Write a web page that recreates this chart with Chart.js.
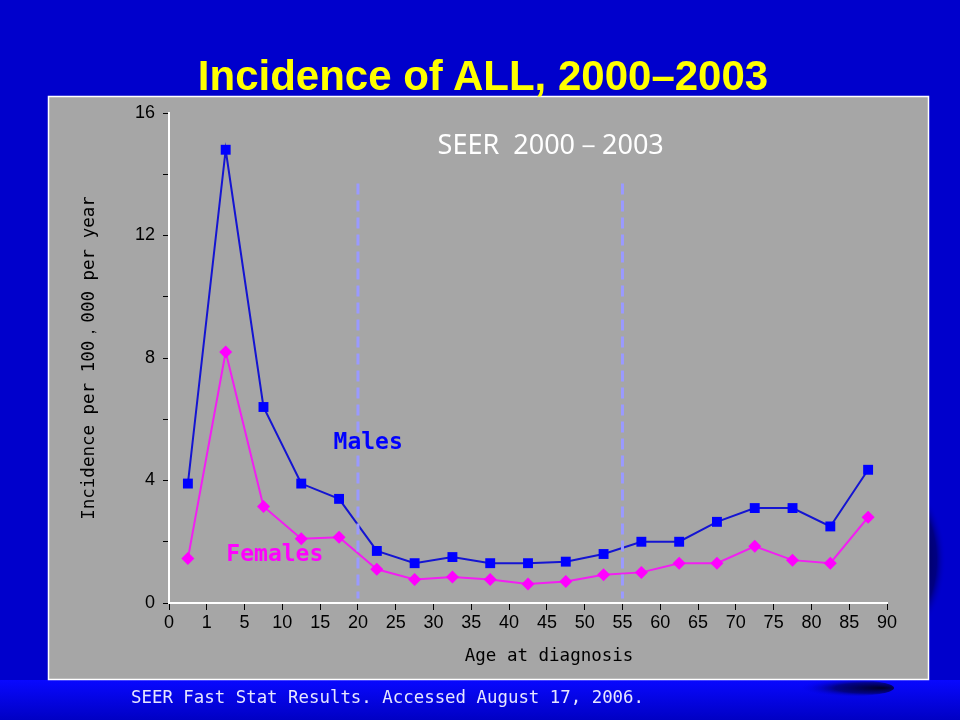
<!DOCTYPE html>
<html>
<head>
<meta charset="utf-8">
<script src="https://cdn.jsdelivr.net/npm/chart.js@4.4.1/dist/chart.umd.min.js"></script>
<style>
body { margin: 0; background: #0000cc; }
#wrap { position: relative; width: 960px; height: 720px; overflow: hidden; }
#title { position: absolute; left: 3px; top: 52px; width: 960px; line-height: 46px; text-align: center;
  font: bold 42px "Liberation Sans", Arial, sans-serif; color: #ffff00; }
#note { position: absolute; left: 131px; top: 687px; line-height: 20px; white-space: pre;
  font: 17.4px "DejaVu Sans Mono", monospace; color: #e6e6ff; }
</style>
</head>
<body>
<div id="wrap">
  <canvas id="chart" width="960" height="720"></canvas>
  <div id="title">Incidence of ALL, 2000–2003</div>
  <div id="note">SEER Fast Stat Results. Accessed August 17, 2006.</div>
</div>
<script>
// tick labels along the age axis (group boundaries)
const ageTicks = ['0', '1', '5', '10', '15', '20', '25', '30', '35', '40', '45',
  '50', '55', '60', '65', '70', '75', '80', '85', '90'];
// age groups, one point per group, drawn between its boundaries
const ageGroups = ['<1', '1-4', '5-9', '10-14', '15-19', '20-24', '25-29', '30-34', '35-39',
  '40-44', '45-49', '50-54', '55-59', '60-64', '65-69', '70-74', '75-79', '80-84', '85+'];
const males = [3.9, 14.8, 6.4, 3.9, 3.4, 1.7, 1.3, 1.5, 1.3, 1.3, 1.35, 1.6, 2.0, 2.0, 2.65, 3.1, 3.1, 2.5, 4.35];
const females = [1.45, 8.2, 3.15, 2.1, 2.15, 1.1, 0.77, 0.85, 0.77, 0.62, 0.7, 0.92, 1.0, 1.3, 1.3, 1.85, 1.4, 1.3, 2.8];
// dashed dividers at ages 20 and 55 (tick index)
const dividers = [5, 12];

const toPoints = vals => vals.map((v, i) => ({ x: i + 0.5, y: v }));

// slide background + grey panel
const slide = {
  id: 'slide',
  beforeDraw(chart) {
    const ctx = chart.ctx;
    ctx.save();
    ctx.fillStyle = '#0000cc';
    ctx.fillRect(0, 0, 960, 720);

    let g = ctx.createLinearGradient(0, 680, 0, 720);
    g.addColorStop(0, '#0808ff');
    g.addColorStop(1, '#0000c4');
    ctx.fillStyle = g;
    ctx.fillRect(0, 680, 960, 40);

    // dark shadow behind panel on the right
    ctx.save();
    ctx.translate(888, 560);
    ctx.scale(1, 1.5);
    g = ctx.createRadialGradient(0, 0, 20, 0, 0, 58);
    g.addColorStop(0, 'rgba(0,0,30,0.95)');
    g.addColorStop(0.75, 'rgba(0,0,70,0.55)');
    g.addColorStop(1, 'rgba(0,0,204,0)');
    ctx.fillStyle = g;
    ctx.beginPath(); ctx.arc(0, 0, 58, 0, Math.PI * 2); ctx.fill();
    ctx.restore();

    // dark streak in the bottom band
    ctx.save();
    ctx.translate(840, 688);
    ctx.scale(1, 0.15);
    g = ctx.createRadialGradient(42, 0, 2, 20, 0, 62);
    g.addColorStop(0, 'rgba(0,0,30,0.95)');
    g.addColorStop(0.55, 'rgba(0,0,60,0.6)');
    g.addColorStop(1, 'rgba(0,0,255,0)');
    ctx.fillStyle = g;
    ctx.beginPath(); ctx.ellipse(0, 0, 54, 60, 0, 0, Math.PI * 2); ctx.fill();
    ctx.restore();

    ctx.fillStyle = '#a6a6a6';
    ctx.fillRect(48, 96, 881, 584);
    ctx.strokeStyle = '#ffffff';
    ctx.lineWidth = 1.5;
    ctx.strokeRect(48.5, 96.5, 880, 583);
    ctx.restore();
  }
};

// dashed dividers and text labels inside the plot
const notes = {
  id: 'notes',
  afterDatasetsDraw(chart) {
    const { ctx, scales: { x, y } } = chart;
    ctx.save();
    ctx.strokeStyle = '#9a9aff';
    ctx.lineWidth = 3;
    ctx.setLineDash([11, 6]);
    dividers.forEach(v => {
      const px = x.getPixelForValue(v);
      ctx.beginPath();
      ctx.moveTo(px, y.getPixelForValue(13.7));
      ctx.lineTo(px, y.getPixelForValue(0.15));
      ctx.stroke();
    });
    ctx.setLineDash([]);
    ctx.textAlign = 'center';
    ctx.textBaseline = 'middle';
    ctx.fillStyle = '#ffffff';
    ctx.font = '27px "Noto Sans", sans-serif';
    ctx.fillText('SEER  2000－2003', x.getPixelForValue(10.1), y.getPixelForValue(14.9));
    ctx.font = 'bold 23px "DejaVu Sans Mono", monospace';
    ctx.fillStyle = '#0000ff';
    ctx.fillText('Males', x.getPixelForValue(5.27), y.getPixelForValue(5.23));
    ctx.fillStyle = '#ff00ff';
    ctx.fillText('Females', x.getPixelForValue(2.8), y.getPixelForValue(1.57));
    ctx.restore();
  }
};

const tickFont = { family: 'Liberation Sans', size: 18 };
const titleFont = { family: 'DejaVu Sans Mono', size: 17.5 };

new Chart(document.getElementById('chart'), {
  type: 'line',
  data: {
    datasets: [{
      label: 'Males',
      data: toPoints(males),
      borderColor: '#1414d2',
      borderWidth: 2,
      pointStyle: 'rect',
      pointRadius: 7,
      pointBackgroundColor: '#0000ff',
      pointBorderColor: '#0000ff',
      pointBorderWidth: 0,
      tension: 0
    }, {
      label: 'Females',
      data: toPoints(females),
      borderColor: '#f21ef2',
      borderWidth: 2,
      pointStyle: 'rectRot',
      pointRadius: 6.5,
      pointBackgroundColor: '#ff00ff',
      pointBorderColor: '#ff00ff',
      pointBorderWidth: 0,
      tension: 0
    }]
  },
  options: {
    responsive: false,
    animation: false,
    layout: { padding: { left: 79, right: 73, top: 113, bottom: 53 } },
    plugins: {
      legend: { display: false },
      tooltip: { enabled: false }
    },
    scales: {
      x: {
        type: 'linear',
        min: 0,
        max: 19,
        border: { color: '#ffffff', width: 2 },
        grid: { drawOnChartArea: false, color: '#000000', tickLength: 7 },
        ticks: {
          stepSize: 1, autoSkip: false, maxRotation: 0, padding: 2,
          color: '#000000', font: tickFont,
          callback: v => ageTicks[v]
        },
        title: { display: true, text: '    Age at diagnosis', color: '#000000', font: titleFont, padding: 0 },
        afterFit(s) { s.height = 64; }
      },
      y: {
        min: 0,
        max: 16,
        border: { color: '#ffffff', width: 2 },
        grid: { drawOnChartArea: false, color: '#000000', tickLength: 6 },
        ticks: {
          stepSize: 2, padding: 8, color: '#000000', font: tickFont,
          callback: v => (v % 4 === 0 ? v : '')
        },
        title: { display: true, text: 'Incidence per 100，000 per year', color: '#000000', font: titleFont, padding: 0 },
        afterFit(s) { s.width = 90; }
      }
    }
  },
  plugins: [slide, notes]
});
</script>
</body>
</html>
